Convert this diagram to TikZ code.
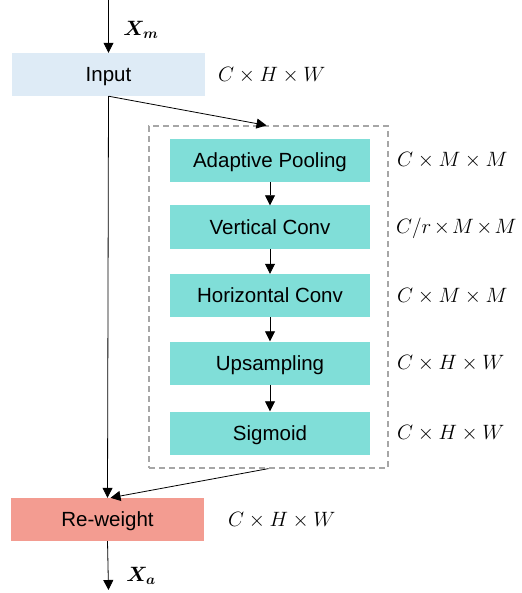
\documentclass[tikz,border=0pt]{standalone}
\usepackage{fontspec}
\setmainfont{Liberation Sans}
\usepackage{bm}
\usetikzlibrary{arrows.meta}
\definecolor{inblue}{HTML}{DEEBF6}
\definecolor{teal2}{HTML}{80DED8}
\definecolor{salmon2}{HTML}{F39C91}
\definecolor{dashgray}{HTML}{A6A6A6}
\newcommand{\tx}{\mkern2mu{\times}\mkern2mu}
\begin{document}
\begin{tikzpicture}[x=1pt,y=-1pt,
  box/.style={minimum width=193pt,minimum height=43pt,inner sep=0pt,text height=14.7pt,text depth=0pt,font=\fontsize{20.5}{24}\selectfont},
  tbox/.style={fill=teal2,minimum width=200pt,minimum height=43pt,inner sep=0pt,text height=14.7pt,text depth=0pt,font=\fontsize{20.5}{24}\selectfont},
  dim/.style={anchor=west,inner sep=0pt,font=\fontsize{21}{25}\selectfont},
  arr/.style={-{Triangle[length=10pt,width=10pt]},line width=0.8pt,black},
  lab/.style={inner sep=0pt,font=\fontsize{20}{24}\selectfont}]
\useasboundingbox (0,0) rectangle (521,593);
\node[box,fill=inblue] (in) at (108.5,74.5) {Input};
\node[draw=dashgray,dash pattern=on 6pt off 4pt,line width=1.2pt,minimum width=239pt,minimum height=342pt,inner sep=0pt] (grp) at (268.5,297) {};
\node[tbox] (ap) at (270,160.5) {Adaptive Pooling};
\node[tbox] (vc) at (270,227) {Vertical Conv};
\node[tbox] (hc) at (270,295.5) {Horizontal Conv};
\node[tbox] (up) at (270,363) {Upsampling};
\node[tbox] (sg) at (270,433) {Sigmoid};
\node[box,fill=salmon2] (rw) at (107.5,519.5) {Re-weight};
\coordinate (top) at (108.5,0);
\coordinate (bot) at (108.5,590);
\node[lab] (xm) at (141,30) {$\bm{X_m}$};
\node[lab] (xa) at (141,576) {$\bm{X_a}$};
\node[dim] (d0) at (218,75) {$C\times H\times W$};
\node[dim] (d1) at (397,160.5) {$C\times M\times M$};
\node[dim] (d2) at (396,228) {$C/r\tx M\tx M$};
\node[dim] (d3) at (397,296) {$C\times M\times M$};
\node[dim] (d4) at (397,363.5) {$C\times H\times W$};
\node[dim] (d5) at (397,433.5) {$C\times H\times W$};
\node[dim] (d6) at (228,520) {$C\times H\times W$};
\draw[arr] (top) -- (in.north);
\draw[arr] (in.south) -- (rw.north);
\draw[arr] (in.south) -- ([xshift=-2pt]grp.north);
\draw[arr] (ap) -- (vc);
\draw[arr] (vc) -- (hc);
\draw[arr] (hc) -- (up);
\draw[arr] (up) -- (sg);
\draw[arr] (grp.south) -- ([xshift=3pt]rw.north);
\draw[arr] (rw.south) -- (bot);
\end{tikzpicture}
\end{document}
